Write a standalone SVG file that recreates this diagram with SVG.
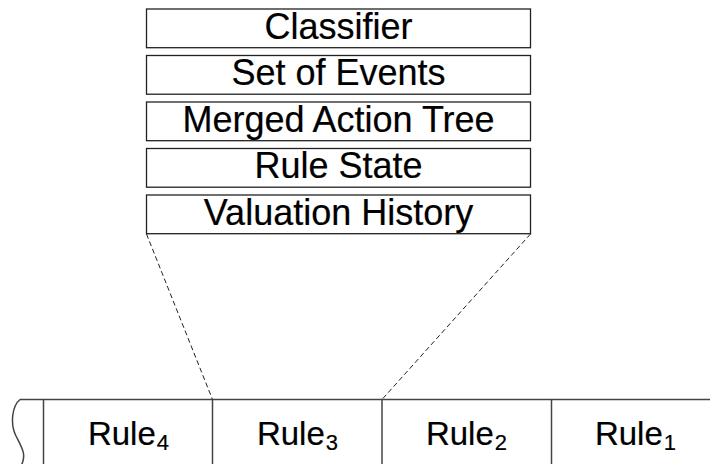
<svg xmlns="http://www.w3.org/2000/svg" width="710" height="464" viewBox="0 0 710 464">
  <style>
    .box { fill: #fff; stroke: #222; stroke-width: 1.3; }
    .lbl { font-family: "Liberation Sans", Arial, sans-serif; font-size: 36px; fill: #000; stroke: #000; stroke-width: 0.2; text-anchor: middle; }
    .cell { font-family: "Liberation Sans", Arial, sans-serif; font-size: 33px; fill: #000; stroke: #000; stroke-width: 0.2; text-anchor: middle; }
    .sub { font-size: 22px; }
    .edge { fill: none; stroke: #444; stroke-width: 1.5; }
    .dash { fill: none; stroke: #222; stroke-width: 1; stroke-dasharray: 5 3; }
  </style>

  <!-- stacked record fields -->
  <g id="classifier">
    <rect class="box" x="146.5" y="9" width="384" height="38.7"/>
    <text class="lbl" x="338.5" y="38.5">Classifier</text>
  </g>
  <g id="set-of-events">
    <rect class="box" x="146.5" y="55.5" width="384" height="38.7"/>
    <text class="lbl" x="338.5" y="85">Set of Events</text>
  </g>
  <g id="merged-action-tree">
    <rect class="box" x="146.5" y="102" width="384" height="38.7"/>
    <text class="lbl" x="338.5" y="131.5">Merged Action Tree</text>
  </g>
  <g id="rule-state">
    <rect class="box" x="146.5" y="148.5" width="384" height="38.7"/>
    <text class="lbl" x="338.5" y="178">Rule State</text>
  </g>
  <g id="valuation-history">
    <rect class="box" x="146.5" y="195" width="384" height="38.7"/>
    <text class="lbl" x="338.5" y="224.5">Valuation History</text>
  </g>

  <!-- rule queue -->
  <g id="queue">
    <path class="edge" d="M20,399.5 H710"/>
    <path class="edge" d="M20,399.5 C12,406 10,424 16,436 C22,448 27,455 21,466" stroke-width="1.2"/>
    <path class="edge" d="M43.5,399.5 V464" stroke="#222" stroke-width="1.2"/>
  </g>
  <g id="rule4">
    <path class="edge" d="M212.5,399.5 V464" stroke="#222" stroke-width="1.2"/>
    <text class="cell" x="128.5" y="445">Rule<tspan class="sub" dx="1" dy="4.5">4</tspan></text>
  </g>
  <g id="rule3">
    <path class="edge" d="M382,399.5 V464"/>
    <text class="cell" x="297.5" y="445">Rule<tspan class="sub" dx="1" dy="4.5">3</tspan></text>
  </g>
  <g id="rule2">
    <path class="edge" d="M551.5,399.5 V464" stroke="#222" stroke-width="1.2"/>
    <text class="cell" x="466.5" y="445">Rule<tspan class="sub" dx="1" dy="4.5">2</tspan></text>
  </g>
  <g id="rule1">
    <text class="cell" x="635.5" y="445">Rule<tspan class="sub" dx="1" dy="4.5">1</tspan></text>
  </g>

  <!-- expansion lines -->
  <g id="connectors">
    <path class="dash" d="M146.5,234 L212.5,399.5"/>
    <path class="dash" d="M530.5,234 L382,399.5"/>
  </g>
</svg>
